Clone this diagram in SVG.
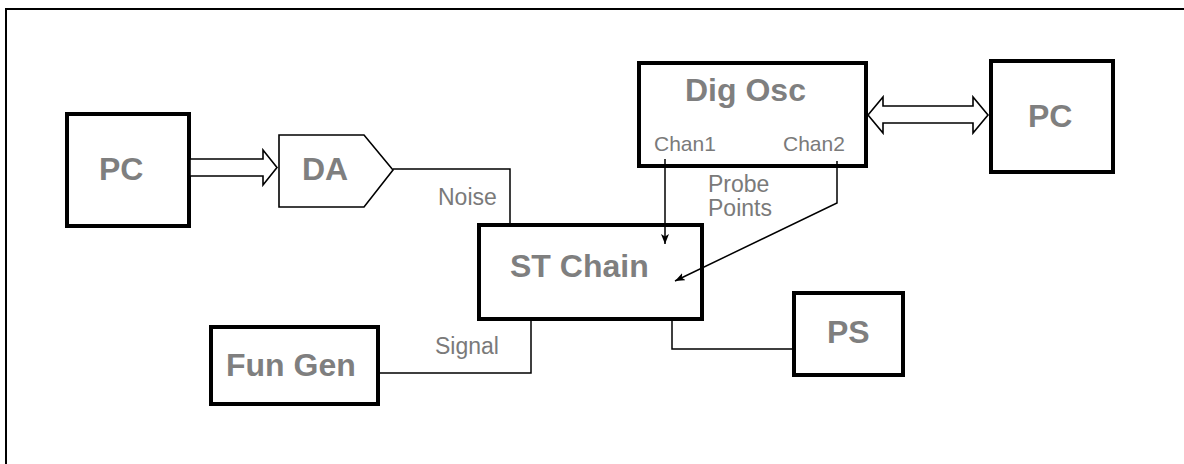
<svg xmlns="http://www.w3.org/2000/svg" width="1184" height="464" viewBox="0 0 1184 464">
<defs>
<style>
.box{fill:#fff;stroke:#000;stroke-width:4}
.thin{fill:#fff;stroke:#000;stroke-width:1.6;stroke-linejoin:miter}
.wire{fill:none;stroke:#000;stroke-width:1.5}
.big{font-family:"Liberation Sans",Arial,sans-serif;font-weight:bold;font-size:32px;fill:#7f7f7f}
.lbl{font-family:"Liberation Sans",Arial,sans-serif;font-size:23px;fill:#7a7a7a}
.ch{font-family:"Liberation Sans",Arial,sans-serif;font-size:21px;fill:#7a7a7a}
</style>
<marker id="ah" viewBox="0 0 10 8" refX="10" refY="4" markerWidth="10" markerHeight="8" markerUnits="userSpaceOnUse" orient="auto">
<path d="M0,0 L10,4 L0,8 L2.5,4 z" fill="#000"/>
</marker>
</defs>
<rect width="1184" height="464" fill="#fff"/>
<path d="M6,464 V9 H1184" fill="none" stroke="#000" stroke-width="2"/>
<g id="pc-left">
<rect class="box" x="67" y="114" width="122" height="112"/>
<text class="big" x="99" y="180">PC</text>
</g>
<g id="da">
<polygon class="thin" points="279,135 364,135 393,170 364,207 279,207"/>
<text class="big" x="302" y="180">DA</text>
</g>
<g id="dig-osc">
<rect class="box" x="639" y="63" width="227" height="103"/>
<text class="big" x="685" y="101">Dig Osc</text>
<text class="ch" x="654" y="151">Chan1</text>
<text class="ch" x="783" y="151">Chan2</text>
</g>
<g id="pc-right">
<rect class="box" x="991" y="61" width="122" height="111"/>
<text class="big" x="1028" y="127">PC</text>
</g>
<g id="st-chain">
<rect class="box" x="479" y="225" width="223" height="94"/>
<text class="big" x="510" y="277">ST Chain</text>
</g>
<g id="fun-gen">
<rect class="box" x="211" y="327" width="167" height="77"/>
<text class="big" x="226" y="376">Fun Gen</text>
</g>
<g id="ps">
<rect class="box" x="794" y="293" width="109" height="82"/>
<text class="big" x="827" y="343">PS</text>
</g>
<g id="connectors">
<polygon class="thin" points="190,159 263,159 263,150 277,167.5 263,185 263,176 190,176"/>
<polygon class="thin" points="868,115 883,97 883,106 973,106 973,97 988,115 973,133 973,123 883,123 883,133"/>
<polyline class="wire" points="393,169 510,169 510,223"/>
<polyline class="wire" points="531,321 531,373 380,373"/>
<polyline class="wire" points="672,321 672,349 792,349"/>
<line class="wire" x1="665" y1="159" x2="665" y2="244" marker-end="url(#ah)"/>
<polyline class="wire" points="837,161 837,203 675,281" marker-end="url(#ah)"/>
<text class="lbl" x="438" y="205">Noise</text>
<text class="lbl" x="435" y="354">Signal</text>
<text class="lbl" x="708" y="192">Probe</text>
<text class="lbl" x="708" y="216">Points</text>
</g>
</svg>
